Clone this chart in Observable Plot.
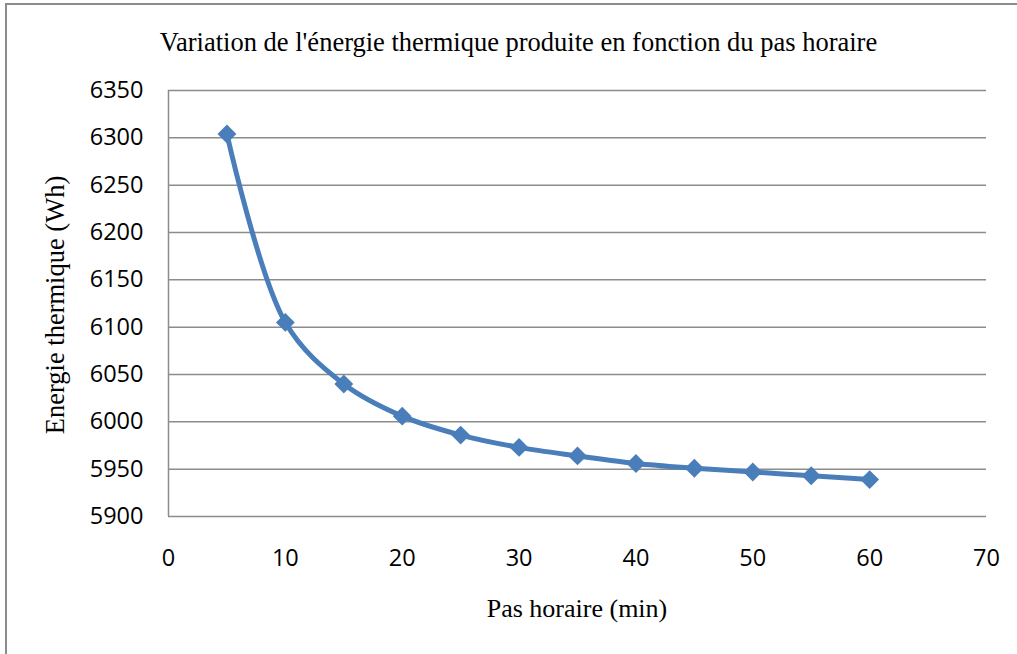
<!DOCTYPE html>
<html><head><meta charset="utf-8">
<script src="https://cdn.jsdelivr.net/npm/d3@7"></script>
<script src="https://cdn.jsdelivr.net/npm/@observablehq/plot@0.6"></script>
<style>
body{margin:0;background:#fff;}
#wrap{position:relative;width:1017px;height:654px;overflow:hidden;background:#fff;}
#border{position:absolute;left:5px;top:3px;width:1100px;height:800px;border:2px solid #8c8c8c;box-sizing:border-box;}
.t{position:absolute;font-family:"Liberation Serif",serif;color:#000;white-space:nowrap;line-height:1;}
#title{left:0;width:1037px;text-align:center;top:29px;font-size:26.5px;}
#xl{left:0;width:1154px;text-align:center;top:596px;font-size:26px;}
#yl{left:55px;top:305px;font-size:26.5px;transform:translate(-50%,-50%) rotate(-90deg);}
svg{position:absolute;left:0;top:0;}
</style></head>
<body><div id="wrap"><div id="border"></div></div>
<script>
const pas = [5,10,15,20,25,30,35,40,45,50,55,60];
const energie = [6304,6105,6040,6006,5986,5973,5964,5956,5951,5947,5943,5939];
const xTicks = [0,10,20,30,40,50,60,70];
const yTicks = [5900,5950,6000,6050,6100,6150,6200,6250,6300,6350];
const titre = "Variation de l'énergie thermique produite en fonction du pas horaire";
const xLabel = "Pas horaire (min)";
const yLabel = "Energie thermique (Wh)";

const data = pas.map((p,i)=>({pas:p, e:energie[i]}));
const chart = Plot.plot({
  width:1017, height:654,
  marginLeft:168, marginRight:31, marginTop:90, marginBottom:138,
  style:{background:"transparent", fontFamily:"'Open Sans', sans-serif", color:"#000"},
  x:{domain:[0,70], label:null},
  y:{domain:[5900,6350], label:null},
  marks:[
    Plot.gridY(yTicks,{stroke:"#8c8c8c", strokeOpacity:1, strokeWidth:1.5}),
    Plot.ruleX([0],{stroke:"#8c8c8c", strokeWidth:1.5}),
    Plot.axisX(xTicks,{tickSize:0, tickPadding:33, fontSize:23.5, fill:"#000", tickFormat:d=>String(d)}),
    Plot.axisY(yTicks,{tickSize:0, tickPadding:25, fontSize:23.5, fill:"#000", tickFormat:d=>String(d)}),
    Plot.line(data,{x:"pas", y:"e", curve:"catmull-rom", stroke:"#4a7ebb", strokeWidth:5}),
    Plot.dot(data,{x:"pas", y:"e", symbol:"diamond2", r:8.5, fill:"#4a7ebb", stroke:"none"})
  ]
});
const wrap = document.getElementById("wrap");
wrap.appendChild(chart);
function addText(id, txt){const d=document.createElement("div");d.className="t";d.id=id;d.textContent=txt;wrap.appendChild(d);}
addText("title", titre);
addText("xl", xLabel);
addText("yl", yLabel);
</script>
</body></html>
